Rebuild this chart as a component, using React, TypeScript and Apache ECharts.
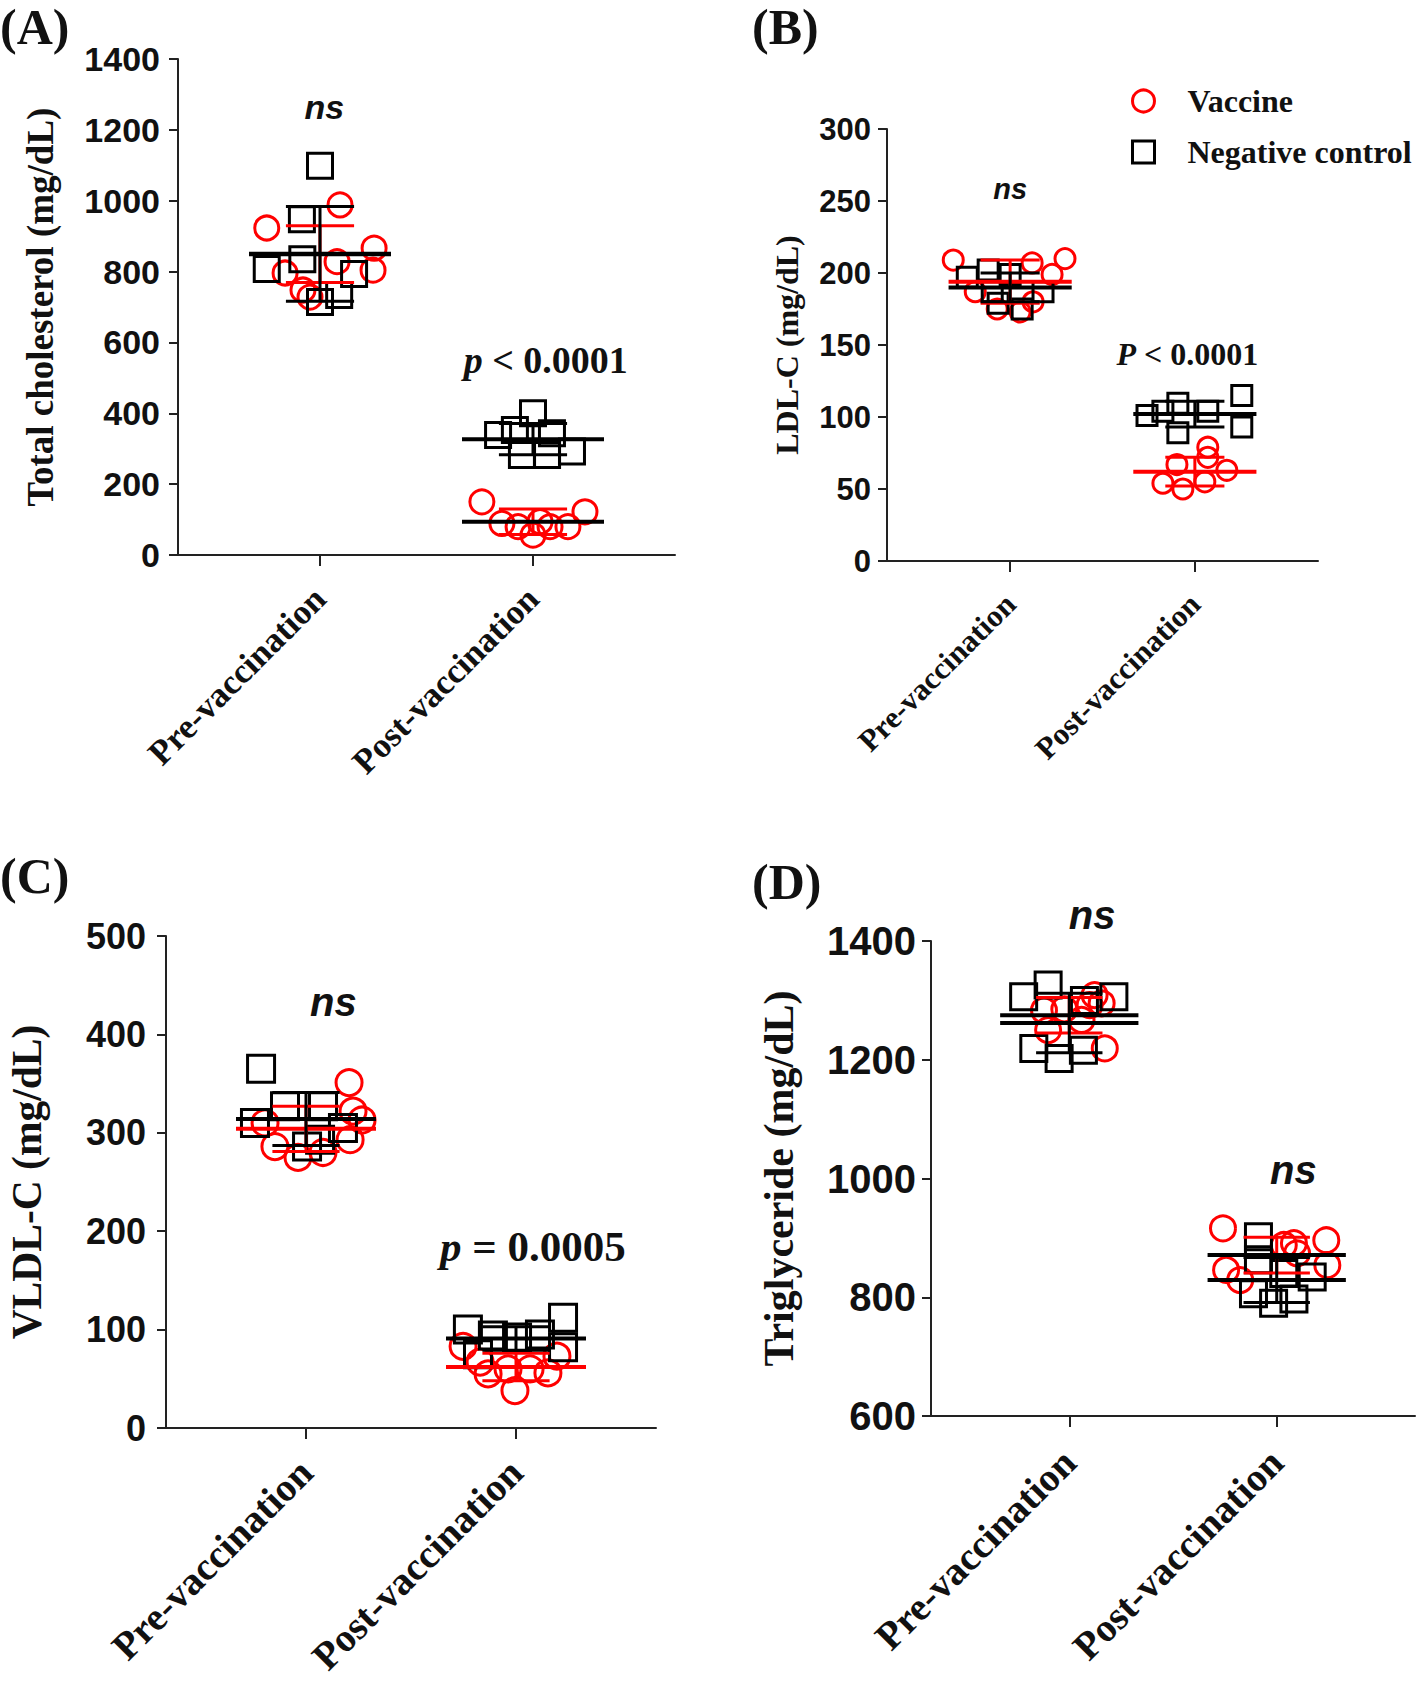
import React, { useEffect, useRef } from "react";
import * as echarts from "echarts";

const categories = ["Pre-vaccination", "Post-vaccination"];
const seriesNames = ["Vaccine", "Negative control"];

// ---------- Panel A: Total cholesterol ----------
const aVacPre = [923, 988, 866, 828, 804, 796, 748, 728];
const aVacPreX = [-0.25, 0.094, 0.254, 0.08, 0.249, -0.164, -0.08, -0.047];
const aVacPost = [150, 122, 89, 56, 80, 80, 80, 94];
const aVacPostX = [-0.24, 0.244, -0.146, 0, -0.07, 0.08, 0.164, 0.033];
const aCtlPre = [1099, 948, 835, 807, 793, 714, 734];
const aCtlPreX = [0, -0.085, -0.083, -0.25, 0.16, 0, 0.09];
const aCtlPost = [400, 339, 353, 344, 292, 282, 282];
const aCtlPostX = [0, -0.164, -0.085, 0.089, 0.183, -0.052, 0.066];
const aVacMean = [849, 94];
const aVacSD = [80, 36];
const aCtlMean = [850, 327];
const aCtlSD = [134, 44];
const aNotes: [number, number, string][] = [[0.02, 1264, "ns"], [1.06, 550, "p < 0.0001"]];

// ---------- Panel B: LDL-C ----------
const bVacPre = [209, 210, 207, 199, 187, 175, 173, 180];
const bVacPreX = [-0.308, 0.297, 0.119, 0.227, -0.189, -0.07, 0.054, 0.124];
const bVacPost = [79, 72, 63, 67, 54, 50, 55];
const bVacPostX = [0.07, 0.07, 0.173, -0.097, -0.173, -0.065, 0.054];
const bCtlPre = [197, 202, 199, 187, 187, 179, 175];
const bCtlPreX = [-0.232, -0.119, 0, 0.178, -0.097, -0.065, 0.065];
const bCtlPost = [115, 93, 109.5, 101, 104, 104, 89];
const bCtlPostX = [0.254, 0.254, -0.092, -0.259, -0.173, 0.07, -0.092];
const bVacMean = [194, 62];
const bVacSD = [15, 10];
const bCtlMean = [190, 102];
const bCtlSD = [10, 9];
const bNotes: [number, number, string][] = [[0, 258, "ns"], [0.96, 144, "P < 0.0001"]];

// ---------- Panel C: VLDL-C ----------
const cVacPre = [351, 310, 286, 275, 280, 293, 313, 322];
const cVacPreX = [0.205, -0.195, -0.148, -0.038, 0.081, 0.21, 0.267, 0.224];
const cVacPost = [38, 83, 73, 55, 60, 60, 56, 67];
const cVacPostX = [-0.005, -0.252, 0.195, -0.133, -0.038, 0.067, 0.152, -0.171];
const cCtlPre = [365, 310, 327, 327, 305, 286, 293];
const cCtlPreX = [-0.214, -0.243, -0.1, 0.081, 0.176, 0.005, 0.067];
const cCtlPost = [112, 82, 100, 75, 94, 92, 95];
const cCtlPostX = [0.224, 0.224, -0.229, -0.181, -0.11, 0.005, 0.114];
const cVacMean = [304, 62];
const cVacSD = [23, 14];
const cCtlMean = [314, 91];
const cCtlSD = [27, 12];
const cNotes: [number, number, string][] = [[0.13, 433, "ns"], [1.08, 184, "p = 0.0005"]];

// ---------- Panel D: Triglyceride ----------
const dVacPre = [1309, 1295, 1219, 1283, 1250, 1267, 1292, 1285];
const dVacPreX = [0.122, 0.156, 0.171, -0.122, -0.102, 0.059, 0.098, -0.024];
const dVacPost = [916, 896, 891, 874, 846, 829, 854, 888];
const dVacPostX = [-0.259, 0.239, 0.083, 0.098, -0.244, -0.176, 0.244, 0.034];
const dCtlPre = [1326, 1306, 1306, 1300, 1219, 1202, 1216];
const dCtlPreX = [-0.102, -0.22, 0.215, 0.073, -0.171, -0.049, 0.068];
const dCtlPost = [902, 863, 840, 834, 806, 790, 797];
const dCtlPostX = [-0.088, -0.088, 0.034, 0.171, -0.112, -0.015, 0.083];
const dVacMean = [1275, 871];
const dVacSD = [30, 30];
const dCtlMean = [1262, 829];
const dCtlSD = [50, 38];
const dNotes: [number, number, string][] = [[0.11, 1443, "ns"], [1.08, 1014, "ns"]];

const RED = "#ff0000";
const BLACK = "#000000";
const TEXT = "#111111";
const SANS = 'Arial, "Liberation Sans", sans-serif';
const SERIF = '"Times New Roman", "Liberation Serif", serif';

const panels = [
  {
    letter: "(A)", letterPos: [0, 2], title: "Total cholesterol (mg/dL)",
    yMin: 0, yMax: 1400, yInt: 200,
    grid: { left: 178, top: 59, width: 497, height: 496 },
    tickFont: 34, catFont: 35, titleFont: 37, titleGap: 119, labelMargin: 18, catMargin: 38,
    symV: 24, symC: 25, noteFont: 34, pFont: 38, vacMeanColor: BLACK,
    vac: [aVacPre, aVacPost], vacX: [aVacPreX, aVacPostX],
    ctl: [aCtlPre, aCtlPost], ctlX: [aCtlPreX, aCtlPostX],
    vacMean: aVacMean, vacSD: aVacSD, ctlMean: aCtlMean, ctlSD: aCtlSD, notes: aNotes,
  },
  {
    letter: "(B)", letterPos: [752, 2], title: "LDL-C (mg/dL)",
    yMin: 0, yMax: 300, yInt: 50,
    grid: { left: 887, top: 129, width: 431, height: 432 },
    tickFont: 31, catFont: 31, titleFont: 32, titleGap: 84, labelMargin: 16, catMargin: 38,
    symV: 20, symC: 20, noteFont: 29, pFont: 32, vacMeanColor: RED,
    vac: [bVacPre, bVacPost], vacX: [bVacPreX, bVacPostX],
    ctl: [bCtlPre, bCtlPost], ctlX: [bCtlPreX, bCtlPostX],
    vacMean: bVacMean, vacSD: bVacSD, ctlMean: bCtlMean, ctlSD: bCtlSD, notes: bNotes,
  },
  {
    letter: "(C)", letterPos: [0, 851], title: "VLDL-C (mg/dL)",
    yMin: 0, yMax: 500, yInt: 100,
    grid: { left: 166, top: 936, width: 490, height: 492 },
    tickFont: 36, catFont: 39.5, titleFont: 41.5, titleGap: 118, labelMargin: 20, catMargin: 38,
    symV: 26, symC: 27, noteFont: 40, pFont: 43, vacMeanColor: RED,
    vac: [cVacPre, cVacPost], vacX: [cVacPreX, cVacPostX],
    ctl: [cCtlPre, cCtlPost], ctlX: [cCtlPreX, cCtlPostX],
    vacMean: cVacMean, vacSD: cVacSD, ctlMean: cCtlMean, ctlSD: cCtlSD, notes: cNotes,
  },
  {
    letter: "(D)", letterPos: [752, 857], title: "Triglyceride (mg/dL)",
    yMin: 600, yMax: 1400, yInt: 200,
    grid: { left: 931, top: 941, width: 484, height: 475 },
    tickFont: 40, catFont: 39.5, titleFont: 42, titleGap: 131, labelMargin: 15, catMargin: 40,
    symV: 25, symC: 26, noteFont: 40, pFont: 40, vacMeanColor: BLACK,
    vac: [dVacPre, dVacPost], vacX: [dVacPreX, dVacPostX],
    ctl: [dCtlPre, dCtlPost], ctlX: [dCtlPreX, dCtlPostX],
    vacMean: dVacMean, vacSD: dVacSD, ctlMean: dCtlMean, ctlSD: dCtlSD, notes: dNotes,
  },
];

function points(vals: number[][], offs: number[][]) {
  const out: number[][] = [];
  vals.forEach((arr, phase) => arr.forEach((v, i) => out.push([phase + offs[phase][i], v])));
  return out;
}

function statSeries(gi: number, means: number[], sds: number[], color: string, meanColor: string, z: number) {
  return {
    type: "custom",
    xAxisIndex: gi,
    yAxisIndex: gi,
    silent: true,
    z,
    encode: { x: 0, y: 1 },
    data: means.map((m, i) => [i, m, sds[i]]),
    renderItem: (_p: any, api: any) => {
      const x = api.value(0);
      const m = api.value(1);
      const s = api.value(2);
      const mid = api.coord([x, m]);
      const L = api.coord([x - 1 / 3, m])[0];
      const R = api.coord([x + 1 / 3, m])[0];
      const cl = api.coord([x - 0.16, m])[0];
      const cr = api.coord([x + 0.16, m])[0];
      const yt = api.coord([x, m + s])[1];
      const yb = api.coord([x, m - s])[1];
      const st = { stroke: color, lineWidth: 3 };
      return {
        type: "group",
        children: [
          { type: "line", shape: { x1: mid[0], y1: yt, x2: mid[0], y2: yb }, style: st },
          { type: "line", shape: { x1: cl, y1: yt, x2: cr, y2: yt }, style: st },
          { type: "line", shape: { x1: cl, y1: yb, x2: cr, y2: yb }, style: st },
          { type: "line", shape: { x1: L, y1: mid[1], x2: R, y2: mid[1] }, style: { stroke: meanColor, lineWidth: 4 } },
        ],
      };
    },
  };
}

function buildOption() {
  const grids: any[] = [];
  const xAxes: any[] = [];
  const yAxes: any[] = [];
  const series: any[] = [];
  const graphics: any[] = [];

  panels.forEach((p, gi) => {
    grids.push({ ...p.grid, containLabel: false, outerBoundsMode: "none" });
    xAxes.push({
      type: "value",
      gridIndex: gi,
      min: -2 / 3,
      max: 5 / 3,
      splitLine: { show: false },
      axisLine: { show: true, onZero: false, lineStyle: { color: "#222", width: 2 } },
      axisTick: { show: true, customValues: [0, 1], length: 11, lineStyle: { color: "#222", width: 2 } },
      axisLabel: {
        show: true,
        customValues: [0, 1],
        formatter: (v: number) => categories[Math.round(v)] ?? "",
        rotate: 45,
        margin: p.catMargin,
        color: TEXT,
        fontFamily: SERIF,
        fontWeight: "bold",
        fontSize: p.catFont,
      },
    });
    yAxes.push({
      type: "value",
      gridIndex: gi,
      min: p.yMin,
      max: p.yMax,
      interval: p.yInt,
      name: p.title,
      nameLocation: "middle",
      nameGap: p.titleGap,
      nameRotate: 90,
      nameTextStyle: { fontFamily: SERIF, fontWeight: "bold", fontSize: p.titleFont, color: TEXT },
      splitLine: { show: false },
      axisLine: { show: true, onZero: false, lineStyle: { color: "#222", width: 2 } },
      axisTick: { show: true, length: 9, lineStyle: { color: "#222", width: 2 } },
      axisLabel: {
        margin: p.labelMargin,
        color: TEXT,
        fontFamily: SANS,
        fontWeight: "bold",
        fontSize: p.tickFont,
        formatter: (v: number) => String(v),
      },
    });
    series.push({
      name: seriesNames[0],
      type: "scatter",
      xAxisIndex: gi,
      yAxisIndex: gi,
      symbol: "circle",
      symbolSize: p.symV,
      z: 2,
      itemStyle: { color: "rgba(255,255,255,0)", borderColor: RED, borderWidth: 3, opacity: 1 },
      data: points(p.vac, p.vacX),
    });
    series.push({
      name: seriesNames[1],
      type: "scatter",
      xAxisIndex: gi,
      yAxisIndex: gi,
      symbol: "rect",
      symbolSize: p.symC,
      z: 3,
      itemStyle: { color: "rgba(255,255,255,0)", borderColor: BLACK, borderWidth: 3, opacity: 1 },
      data: points(p.ctl, p.ctlX),
    });
    series.push(statSeries(gi, p.vacMean, p.vacSD, RED, p.vacMeanColor, 4));
    series.push(statSeries(gi, p.ctlMean, p.ctlSD, BLACK, BLACK, 5));
    series.push({
      type: "scatter",
      xAxisIndex: gi,
      yAxisIndex: gi,
      symbolSize: 0,
      silent: true,
      clip: false,
      z: 6,
      itemStyle: { opacity: 1 },
      data: p.notes.map((n) => ({ value: [n[0], n[1]], note: n[2] })),
      label: {
        show: true,
        position: "inside",
        align: "center",
        verticalAlign: "middle",
        opacity: 1,
        textBorderWidth: 0,
        formatter: (prm: any) => {
          const t: string = prm.data.note;
          if (t === "ns") return "{ns|ns}";
          return "{pi|" + t.charAt(0) + "}{pr|" + t.slice(1) + "}";
        },
        rich: {
          ns: { fontFamily: SANS, fontStyle: "italic", fontWeight: "bold", fontSize: p.noteFont, color: TEXT },
          pi: { fontFamily: SERIF, fontStyle: "italic", fontWeight: "bold", fontSize: p.pFont, color: TEXT },
          pr: { fontFamily: SERIF, fontWeight: "bold", fontSize: p.pFont, color: TEXT },
        },
      },
    });
    graphics.push({
      type: "text",
      left: p.letterPos[0],
      top: p.letterPos[1],
      style: { text: p.letter, font: `bold 50px ${SERIF}`, fill: TEXT },
    });
  });

  return {
    animation: false,
    backgroundColor: "#ffffff",
    grid: grids,
    xAxis: xAxes,
    yAxis: yAxes,
    series,
    graphic: graphics,
    legend: {
      left: 1126,
      top: 80,
      orient: "vertical",
      itemWidth: 22,
      itemHeight: 22,
      itemGap: 19,
      selectedMode: false,
      textStyle: { fontFamily: SERIF, fontWeight: "bold", fontSize: 32, color: TEXT, padding: [0, 0, 0, 28] },
      data: [
        { name: seriesNames[0], icon: "circle", itemStyle: { color: "rgba(255,255,255,0)", borderColor: RED, borderWidth: 3 } },
        { name: seriesNames[1], icon: "rect", itemStyle: { color: "rgba(255,255,255,0)", borderColor: BLACK, borderWidth: 3 } },
      ],
    },
  };
}

export default function App() {
  const ref = useRef<HTMLDivElement>(null);
  useEffect(() => {
    if (!ref.current) return;
    const chart = echarts.init(ref.current, undefined, { renderer: "svg" });
    chart.setOption(buildOption() as any);
    return () => chart.dispose();
  }, []);
  return (
    <div
      ref={ref}
      style={{ position: "absolute", left: 0, top: 0, width: 1418, height: 1689, background: "#fff" }}
    />
  );
}
